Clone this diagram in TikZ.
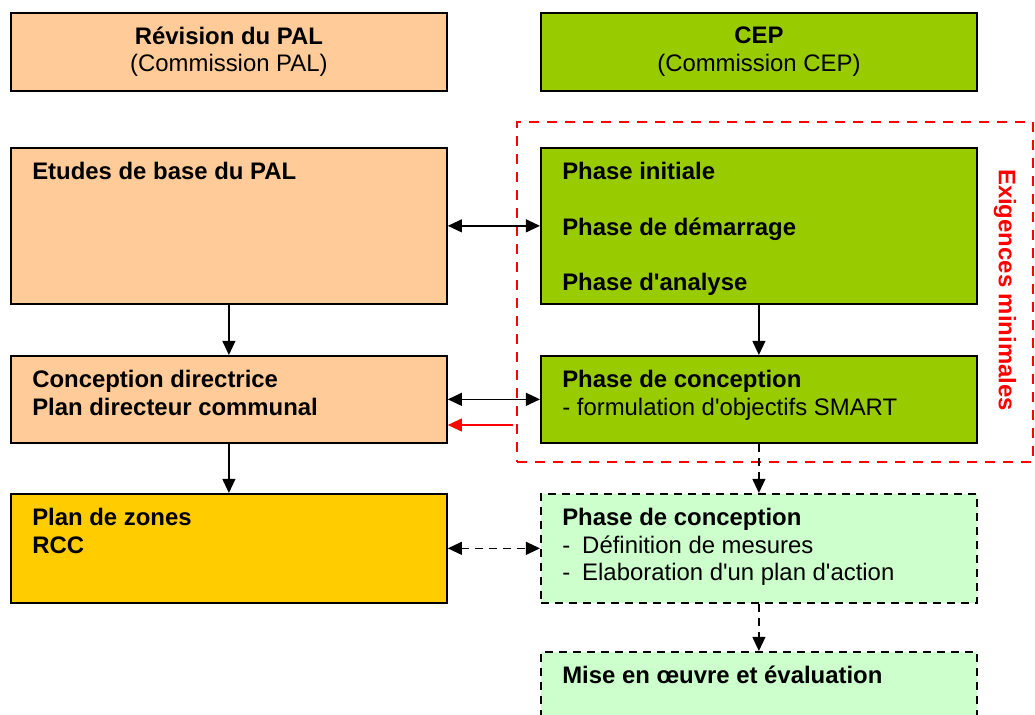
\documentclass[tikz,border=0pt]{standalone}
\usepackage{fontspec}
\setmainfont[Ligatures=TeXOff]{Liberation Sans}
\usetikzlibrary{arrows.meta,positioning}
\definecolor{palorange}{HTML}{FFCC99}
\definecolor{cepgreen}{HTML}{99CC00}
\definecolor{zoneyellow}{HTML}{FFCC00}
\definecolor{nextgreen}{HTML}{CCFFCC}
\newcommand{\diafont}{\fontsize{17}{19.6}\selectfont}
\tikzset{box/.style={draw,line width=1.2pt,anchor=north west,minimum width=10.9cm,inner sep=0pt},
  pal/.style={box,fill=palorange}, cep/.style={box,fill=cepgreen},
  next/.style={box,fill=nextgreen,dash pattern=on 0.2cm off 0.15cm},
  txt/.style={anchor=north west,align=left,inner sep=0pt,font=\diafont\bfseries},
  arr/.style={->,line width=1.1pt}, dual/.style={<->,line width=1.1pt},
  dashln/.style={dash pattern=on 0.2cm off 0.15cm}}

\begin{document}
\begin{tikzpicture}[x=0.025cm,y=-0.025cm,font=\diafont,>={Triangle[length=0.35cm,width=0.32cm]}]
\useasboundingbox (0,0) rectangle (1035,715);
\clip (0,0) rectangle (1035,715);
% titles
\node[pal,minimum height=1.95cm,align=center] (rp) at (10,12){\textbf{Révision du PAL}\\(Commission PAL)};
\node[cep,minimum height=1.95cm,align=center] (ce) at (540,12){\textbf{CEP}\\(Commission CEP)};
% boxes
\node[pal,minimum height=3.9cm] (eb) at (10,147){}; \node[cep,minimum height=3.9cm] (pi) at (540,147){};
\node[pal,minimum height=2.175cm] (cd) at (10,355){}; \node[cep,minimum height=2.175cm] (pc) at (540,355){};
\node[box,fill=zoneyellow,minimum height=2.725cm] (pz) at (10,493){}; \node[next,minimum height=2.725cm] (mc) at (540,493){};
\node[next,minimum height=3cm] (me) at (540,651){};
% texts
\node[txt] (teb) at ([shift={(22,13)}]eb.north west){\strut Etudes de base du PAL};
\node[txt] (tpi) at ([shift={(22,13)}]pi.north west){\strut Phase initiale\\[0.7cm]Phase de démarrage\\[0.7cm]Phase d'analyse};
\node[txt] (tcd) at ([shift={(22,13)}]cd.north west){\strut Conception directrice\\Plan directeur communal};
\node[txt] (tpc) at ([shift={(22,13)}]pc.north west){\strut Phase de conception\\\mdseries - formulation d'objectifs SMART};
\node[txt] (tpz) at ([shift={(22,13)}]pz.north west){\strut Plan de zones\\RCC};
\node[txt] (tmc) at ([shift={(22,13)}]mc.north west){\strut Phase de conception\\\mdseries -\hspace{0.3cm}Définition de mesures\\\mdseries -\hspace{0.3cm}Elaboration d'un plan d'action};
\node[txt] (tme) at ([shift={(22,13)}]me.north west){\strut Mise en œuvre et évaluation};
% minimal requirements
\node[draw=red,line width=1.3pt,dash pattern=on 0.25cm off 0.2cm,anchor=north west,minimum width=12.9cm,minimum height=8.5cm,inner sep=0pt] (ex) at (516,121){};
\node[red,font=\diafont\bfseries,rotate=-90] (exl) at (1005,290){Exigences minimales};
\coordinate (rs) at (513,425);
% connectors
\draw[dual] (eb)--(pi); \draw[dual] (cd)--(pc); \draw[dual,dashln] (pz)--(mc);
\draw[arr] (eb)--(cd); \draw[arr] (cd)--(pz); \draw[arr] (pi)--(pc);
\draw[arr,dashln] (pc)--(mc); \draw[arr,dashln] (mc)--(me);
\draw[arr,red] (rs)--(cd.east |- rs);
\end{tikzpicture}
\end{document}
